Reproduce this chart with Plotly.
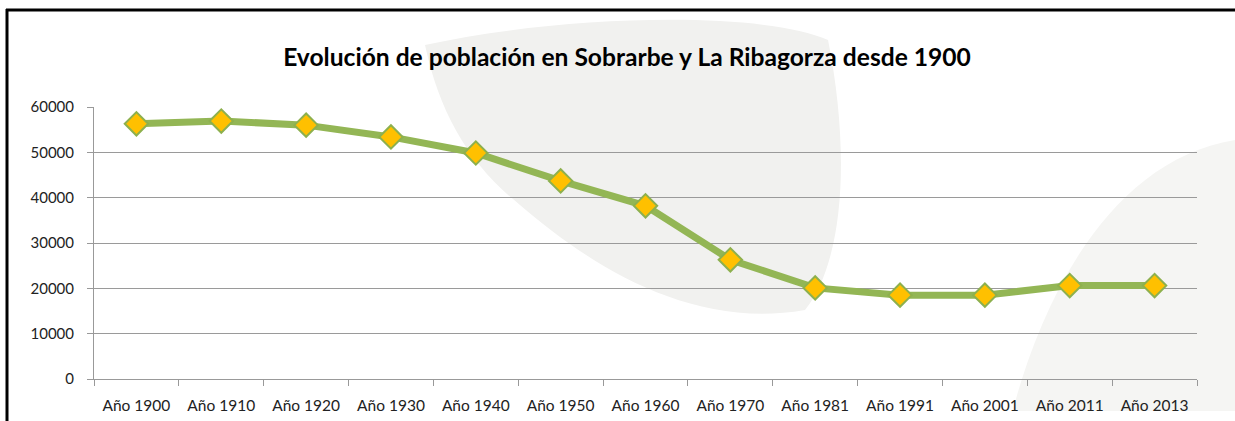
import plotly.graph_objects as go

categories = ["Año 1900", "Año 1910", "Año 1920", "Año 1930", "Año 1940", "Año 1950", "Año 1960",
              "Año 1970", "Año 1981", "Año 1991", "Año 2001", "Año 2011", "Año 2013"]
population = [56300, 56900, 56000, 53400, 49850, 43700, 38200, 26300, 20100, 18500, 18500, 20600, 20600]
y_ticks = [0, 10000, 20000, 30000, 40000, 50000, 60000]
title_text = "Evolución de población en Sobrarbe y La Ribagorza desde 1900"

W, H = 1235, 421
L, R, T, B = 94, 38, 107, 42
PW, PH = W - L - R, H - T - B


def px_x(p):
    return (p - L) / PW


def px_y(p):
    return (H - B - p) / PH


def px_path(cmds):
    out = []
    for c in cmds:
        if isinstance(c, str):
            out.append(c)
        else:
            out.append("%.4f,%.4f" % (px_x(c[0]), px_y(c[1])))
    return " ".join(out)


# faint decorative watermark in the background
leaf = px_path(["M", (425, 45), "C", (560, 15), (760, 10), (828, 40),
                "C", (850, 150), (845, 260), (805, 310),
                "C", (690, 330), (590, 265), (520, 205), "C", (470, 165), (440, 115), (425, 45), "Z"])
band_right = px_path(["M", (1010, 421), "C", (1040, 300), (1110, 160), (1235, 140), "L", (1235, 421), "Z"])

fig = go.Figure()
fig.add_trace(go.Scatter(
    x=categories, y=population, mode="lines+markers",
    line=dict(color="#93B655", width=7),
    marker=dict(symbol="diamond", size=18, color="#FFC000",
                line=dict(color="#8DB04E", width=2)),
    showlegend=False, hoverinfo="x+y",
))

fig.update_layout(
    width=W, height=H,
    margin=dict(l=L, r=R, t=T, b=B, autoexpand=False),
    paper_bgcolor="white", plot_bgcolor="rgba(0,0,0,0)",
    title=dict(text="<b>" + title_text + "</b>", x=627 / W, xref="container", xanchor="center",
               y=1 - 57 / H, yref="container", yanchor="middle",
               font=dict(family="Lato, Carlito, sans-serif", size=24.6, color="black")),
    font=dict(family="Lato, Carlito, sans-serif", size=15, color="#222"),
    xaxis=dict(type="category", range=[-0.5, len(categories) - 0.5], tickson="boundaries",
               ticks="outside", ticklen=6,
               tickcolor="#999", showline=True, linecolor="#999", linewidth=1,
               showgrid=False, tickfont=dict(size=15.5, color="#222"), ticklabelstandoff=12,
               automargin=False),
    yaxis=dict(range=[0, 60000], tickvals=y_ticks, tickformat="d", ticks="outside", ticklen=6,
               tickcolor="#999", showline=True, linecolor="#999", linewidth=1,
               showgrid=True, gridcolor="#9a9a9a", gridwidth=1, zeroline=False,
               tickfont=dict(size=15, color="#222"), ticklabelstandoff=10, automargin=False),
    shapes=[
        dict(type="path", xref="paper", yref="paper", path=leaf, fillcolor="#f1f1ef",
             line=dict(width=0), layer="below"),
        dict(type="path", xref="paper", yref="paper", path=band_right, fillcolor="#f5f5f3",
             line=dict(width=0), layer="below"),
        dict(type="rect", xref="paper", yref="paper", x0=px_x(0), x1=px_x(W),
             y0=px_y(H + 5), y1=px_y(411), fillcolor="white", line=dict(width=0), layer="above"),
        dict(type="line", xref="paper", yref="paper", x0=px_x(6), x1=px_x(W + 5),
             y0=px_y(10), y1=px_y(10), line=dict(color="black", width=3)),
        dict(type="line", xref="paper", yref="paper", x0=px_x(7), x1=px_x(7),
             y0=px_y(9), y1=px_y(H + 5), line=dict(color="black", width=3)),
    ],
)
fig.write_html("out.html", config={"displayModeBar": False},
               post_script="document.body.style.margin='0';document.body.style.overflow='hidden';")
